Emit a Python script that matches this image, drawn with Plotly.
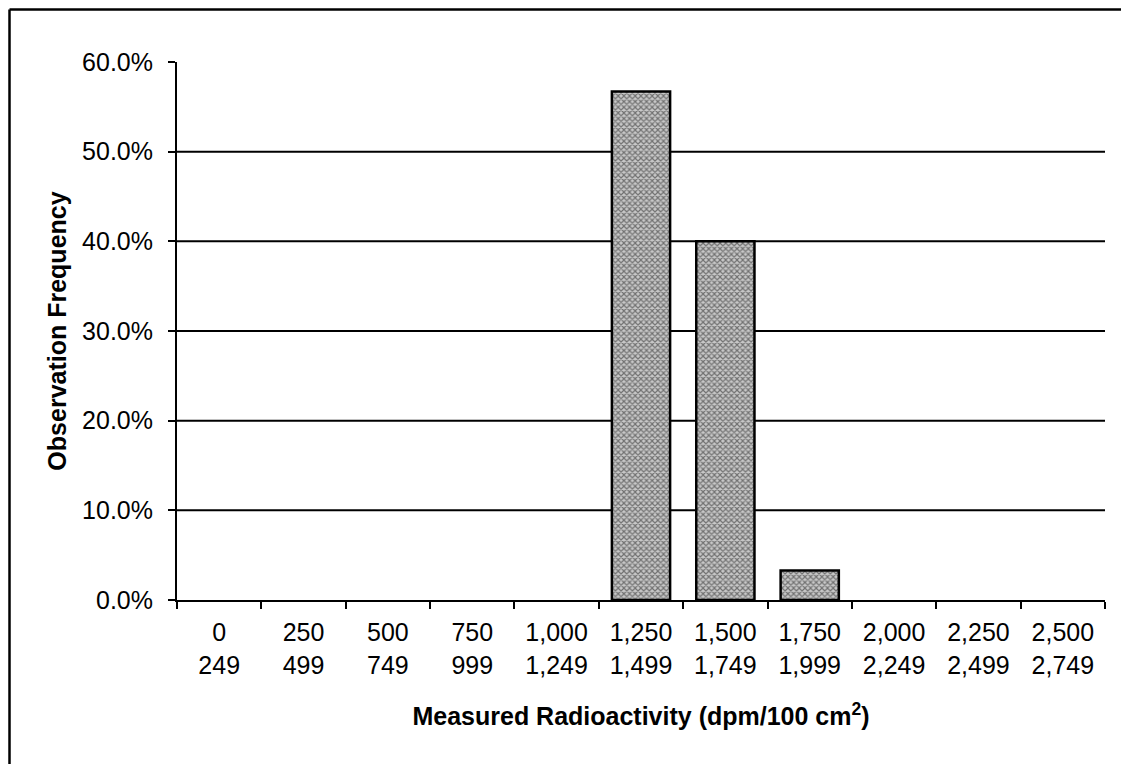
import plotly.graph_objects as go

bin_low = ["0", "250", "500", "750", "1,000", "1,250", "1,500", "1,750", "2,000", "2,250", "2,500"]
bin_high = ["249", "499", "749", "999", "1,249", "1,499", "1,749", "1,999", "2,249", "2,499", "2,749"]
frequency = [0.0, 0.0, 0.0, 0.0, 0.0, 56.7, 40.0, 3.3, 0.0, 0.0, 0.0]
y_ticks = [0, 10, 20, 30, 40, 50, 60]
y_tick_text = ["0.0%", "10.0%", "20.0%", "30.0%", "40.0%", "50.0%", "60.0%"]

categories = [f"{a}<br>{b}" for a, b in zip(bin_low, bin_high)]

# page has an 8px body margin; figure is placed at (8, 8)
OFF = 8
W, H = 1121, 756
L, T = 177 - OFF, 62 - OFF
B = H - (600 - OFF)
R = W - (1105 - OFF)
pw, ph = W - L - R, H - T - B

def px_x(px):
    return (px - OFF - L) / pw

def px_y(py):
    return (H - B - (py - OFF)) / ph

fig = go.Figure()
fig.add_trace(go.Bar(
    x=categories, y=frequency,
    marker=dict(
        color="#909090",
        line=dict(color="black", width=[2.5 if v > 0 else 0 for v in frequency]),
        pattern=dict(shape="x", size=4, solidity=0.5, fgcolor="#1a1a1a", bgcolor="#c8c8c8"),
    ),
    showlegend=False,
))

shapes = []
for v in y_ticks[1:-1]:
    shapes.append(dict(type="line", xref="paper", yref="y", x0=0, x1=1, y0=v, y1=v,
                       line=dict(color="black", width=2), layer="below"))
# outer frame (top and left edges)
shapes.append(dict(type="line", xref="paper", yref="paper", x0=px_x(9.5), x1=px_x(1140),
                   y0=px_y(9.5), y1=px_y(9.5), line=dict(color="black", width=2.5)))
shapes.append(dict(type="line", xref="paper", yref="paper", x0=px_x(9.5), x1=px_x(9.5),
                   y0=px_y(9.5), y1=px_y(780), line=dict(color="black", width=2.5)))

fig.update_layout(
    width=W, height=H,
    margin=dict(l=L, r=R, t=T, b=B),
    paper_bgcolor="white", plot_bgcolor="white",
    bargap=0.31,
    font=dict(family="Liberation Sans, Arial, sans-serif", color="black", size=25),
    shapes=shapes,
    xaxis=dict(
        type="category",
        showline=True, linecolor="black", linewidth=2,
        ticks="outside", tickson="boundaries", ticklen=7, tickwidth=2, tickcolor="black",
        showgrid=False,
        tickfont=dict(size=25),
        ticklabelstandoff=9,
        title=dict(text="<b>Measured Radioactivity (dpm/100 cm<sup>2</sup>)</b>", font=dict(size=25), standoff=30),
    ),
    yaxis=dict(
        range=[0, 60],
        tickvals=y_ticks, ticktext=y_tick_text,
        showline=True, linecolor="black", linewidth=2,
        ticks="outside", ticklen=7, tickwidth=2, tickcolor="black",
        showgrid=False, zeroline=False,
        tickfont=dict(size=25),
        ticklabelstandoff=10,
        title=dict(text="<b>Observation Frequency</b>", font=dict(size=25), standoff=8),
    ),
)

fig.write_html("out.html")
